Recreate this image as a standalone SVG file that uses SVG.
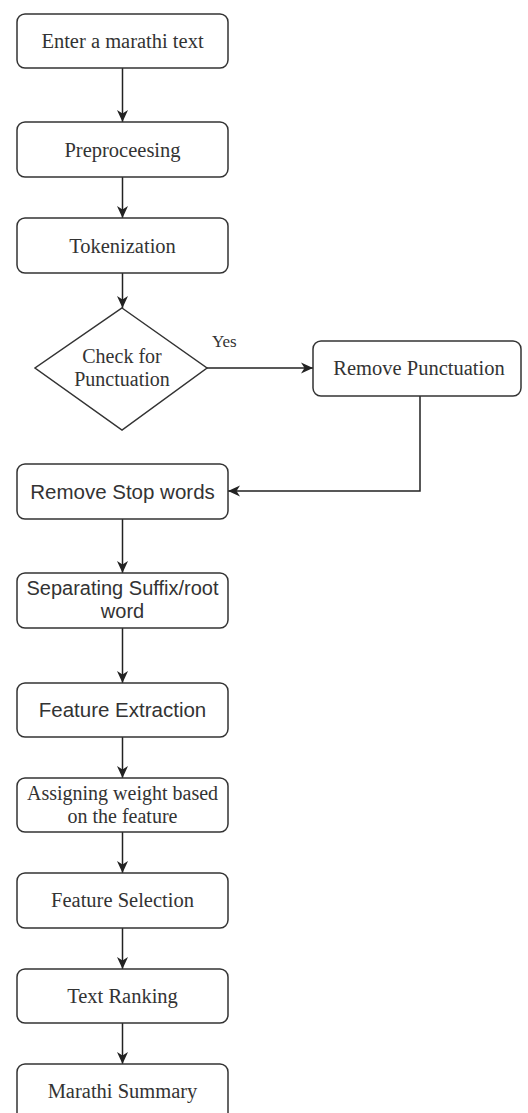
<svg xmlns="http://www.w3.org/2000/svg" width="528" height="1113" viewBox="0 0 528 1113">
<defs>
<marker id="arr" markerUnits="userSpaceOnUse" markerWidth="13" markerHeight="13" viewBox="0 0 13 13" refX="12" refY="6.5" orient="auto">
<path d="M0,1 L12,6.5 L0,12 L3.5,6.5 z" fill="#222"/>
</marker>
<style>
.box{fill:#fff;stroke:#333;stroke-width:1.5}
.ser{font-family:"Liberation Serif","Times New Roman",serif;font-size:20.5px;fill:#333;text-anchor:middle}
.san{font-family:"Liberation Sans",Arial,sans-serif;font-size:20.5px;fill:#333;text-anchor:middle}
.two{font-size:20px}
.edge{fill:none;stroke:#222;stroke-width:1.5;marker-end:url(#arr)}
</style>
</defs>
<rect width="528" height="1113" fill="#fff"/>
<g id="connectors">
<path class="edge" d="M122.5,68 V122"/>
<path class="edge" d="M122.5,177 V218"/>
<path class="edge" d="M122.5,273 V308"/>
<path class="edge" d="M207,368 H313"/>
<path class="edge" d="M420,396 V491 H228"/>
<path class="edge" d="M122.5,519 V573"/>
<path class="edge" d="M122.5,628 V683"/>
<path class="edge" d="M122.5,737 V778"/>
<path class="edge" d="M122.5,832 V873"/>
<path class="edge" d="M122.5,928 V969"/>
<path class="edge" d="M122.5,1023 V1064"/>
<text x="212" y="347" font-family="Liberation Serif,serif" font-size="17" fill="#333">Yes</text>
</g>
<g id="n1"><rect class="box" x="17" y="14" width="211" height="54" rx="8"/><text class="ser" x="122.5" y="48">Enter a marathi text</text></g>
<g id="n2"><rect class="box" x="17" y="122" width="211" height="55" rx="8"/><text class="ser" x="122.5" y="157">Preproceesing</text></g>
<g id="n3"><rect class="box" x="17" y="218" width="211" height="55" rx="8"/><text class="ser" x="122.5" y="253">Tokenization</text></g>
<g id="n4"><polygon class="box" points="122,308 207,368 122,430 35,368"/><text class="ser two" x="122" y="363">Check for</text><text class="ser two" x="122" y="386">Punctuation</text></g>
<g id="n5"><rect class="box" x="313" y="341" width="208" height="55" rx="8"/><text class="ser" x="419" y="375">Remove Punctuation</text></g>
<g id="n6"><rect class="box" x="17" y="464" width="211" height="55" rx="8"/><text class="san" x="122.5" y="499">Remove Stop words</text></g>
<g id="n7"><rect class="box" x="17" y="573" width="211" height="55" rx="8"/><text class="san two" x="122.5" y="595">Separating Suffix/root</text><text class="san two" x="122.5" y="618">word</text></g>
<g id="n8"><rect class="box" x="17" y="683" width="211" height="54" rx="8"/><text class="san" x="122.5" y="717">Feature Extraction</text></g>
<g id="n9"><rect class="box" x="17" y="778" width="211" height="54" rx="8"/><text class="ser two" x="122.5" y="800">Assigning weight based</text><text class="ser two" x="122.5" y="823">on the feature</text></g>
<g id="n10"><rect class="box" x="17" y="873" width="211" height="55" rx="8"/><text class="ser" x="122.5" y="907">Feature Selection</text></g>
<g id="n11"><rect class="box" x="17" y="969" width="211" height="54" rx="8"/><text class="ser" x="122.5" y="1003">Text Ranking</text></g>
<g id="n12"><rect class="box" x="17" y="1064" width="211" height="60" rx="8"/><text class="ser" x="122.5" y="1098">Marathi Summary</text></g>
</svg>
